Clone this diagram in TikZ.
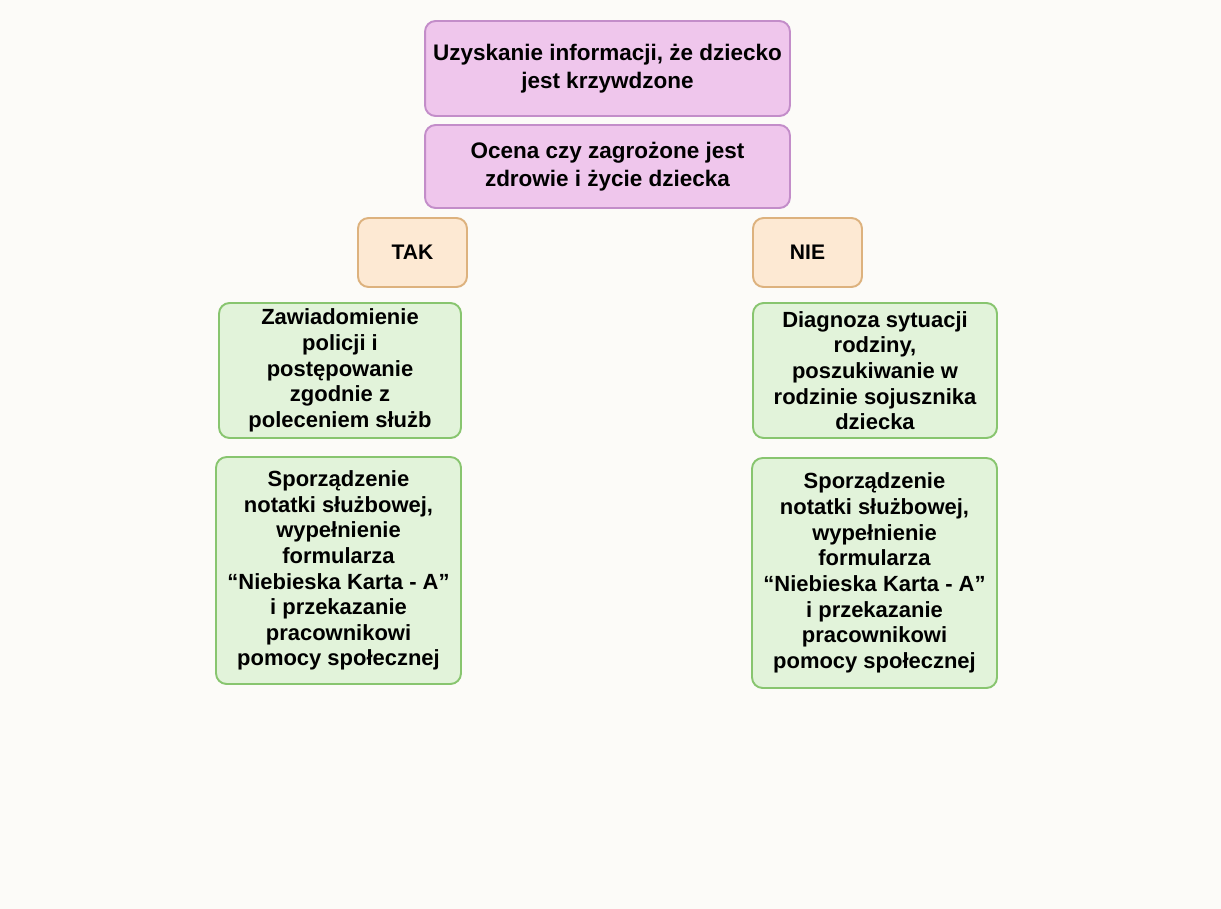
\documentclass[tikz,border=0pt]{standalone}
\usepackage{fontspec}
\setmainfont{Liberation Sans}
\usetikzlibrary{positioning}
\definecolor{bgpaper}{HTML}{FCFBF8}
\definecolor{pinkfill}{HTML}{EFC6EC}
\definecolor{pinkline}{HTML}{C38DC9}
\definecolor{tanfill}{HTML}{FDE9D3}
\definecolor{tanline}{HTML}{DDB27E}
\definecolor{leaffill}{HTML}{E2F3DA}
\definecolor{leafline}{HTML}{88C56F}

\begin{document}
\begin{tikzpicture}[x=0.02cm,y=-0.02cm,
  box/.style={draw,line width=1.1pt,rounded corners=6pt,align=center,inner sep=0pt,font=\bfseries},
  topbox/.style={box,fill=pinkfill,draw=pinkline,minimum width=7.3cm,font=\bfseries\fontsize{12.8}{16}\selectfont},
  answer/.style={box,fill=tanfill,draw=tanline,minimum width=2.18cm,minimum height=1.38cm,font=\bfseries\fontsize{12}{15}\selectfont},
  stepbox/.style={box,fill=leaffill,draw=leafline,font=\bfseries\fontsize{12.5}{14.6}\selectfont}]
  \fill[bgpaper] (0,0) rectangle (1221,909);
  \useasboundingbox (0,0) rectangle (1221,909);
  % question
  \node[topbox,minimum height=1.9cm] (info) at (607.5,68.5){Uzyskanie informacji, że dziecko\\jest krzywdzone};
  \node[topbox,minimum height=1.66cm] (ocena) at (607.5,166.5){Ocena czy zagrożone jest\\zdrowie i życie dziecka};
  % answers
  \node[answer] (tak) at (412.5,252.5){TAK};
  \node[answer] (nie) at (807.5,252.5){NIE};
  % left branch
  \node[stepbox,minimum width=4.84cm,minimum height=2.7cm] (policja) at (340,370.5){Zawiadomienie\\policji i\\postępowanie\\zgodnie z\\poleceniem służb};
  \node[stepbox,minimum width=4.9cm,minimum height=4.54cm] (notatkaL) at (338.5,570.5){Sporządzenie\\notatki służbowej,\\wypełnienie\\formularza\\“Niebieska Karta - A”\\i przekazanie\\pracownikowi\\pomocy społecznej};
  % right branch
  \node[stepbox,minimum width=4.88cm,minimum height=2.7cm] (diagnoza) at (875,370.5){Diagnoza sytuacji\\rodziny,\\poszukiwanie w\\rodzinie sojusznika\\dziecka};
  \node[stepbox,minimum width=4.9cm,minimum height=4.6cm] (notatkaR) at (874.5,573){Sporządzenie\\notatki służbowej,\\wypełnienie\\formularza\\“Niebieska Karta - A”\\i przekazanie\\pracownikowi\\pomocy społecznej};
\end{tikzpicture}
\end{document}
